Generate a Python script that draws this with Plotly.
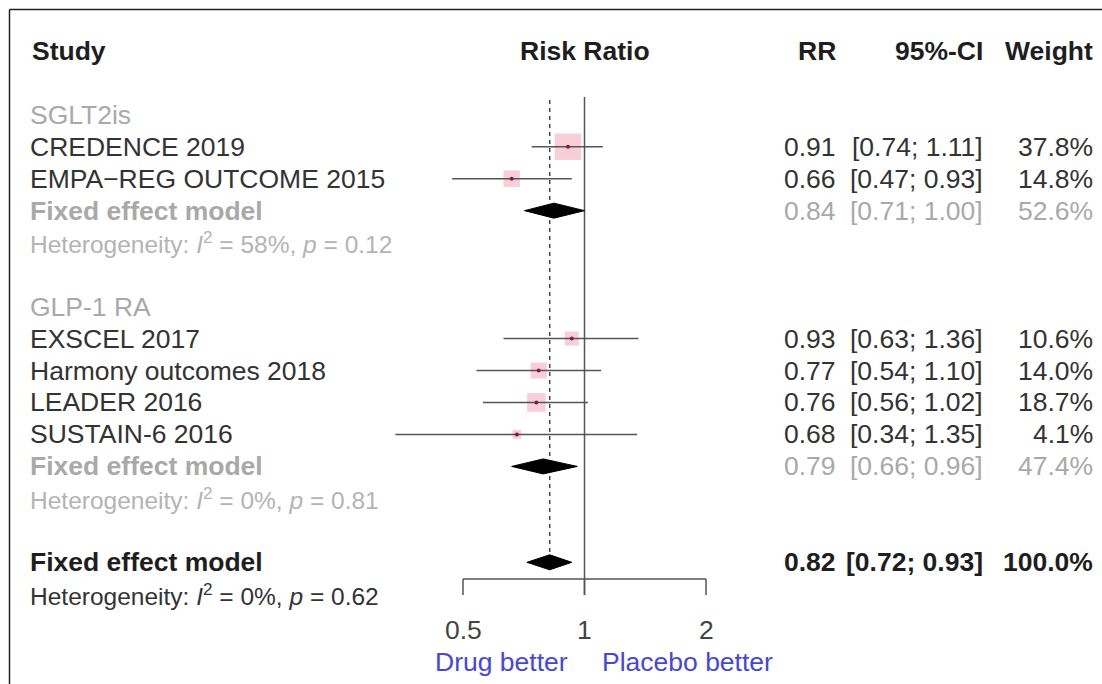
import math
import plotly.graph_objects as go

# ---------------- data ----------------
groups = ["SGLT2is", "GLP-1 RA"]
study_names = ["CREDENCE 2019", "EMPA\u2212REG OUTCOME 2015",
               "EXSCEL 2017", "Harmony outcomes 2018", "LEADER 2016", "SUSTAIN-6 2016"]
study_group = [0, 0, 1, 1, 1, 1]
study_rr = [0.91, 0.66, 0.93, 0.77, 0.76, 0.68]
study_lo = [0.74, 0.47, 0.63, 0.54, 0.56, 0.34]
study_hi = [1.11, 0.93, 1.36, 1.10, 1.02, 1.35]
study_weight = [37.8, 14.8, 10.6, 14.0, 18.7, 4.1]

sub_rr = [0.84, 0.79]
sub_lo = [0.71, 0.66]
sub_hi = [1.00, 0.96]
sub_weight = [52.6, 47.4]
sub_i2 = [58, 0]
sub_p = ["0.12", "0.81"]

overall_rr = 0.82
overall_lo = 0.72
overall_hi = 0.93
overall_weight = 100.0
overall_i2 = 0
overall_p = "0.62"

tick_vals = [0.5, 1, 2]
tick_labels = ["0.5", "1", "2"]
headers = ["Study", "Risk Ratio", "RR", "95%-CI", "Weight"]
label_left = "Drug better"
label_right = "Placebo better"

# ---------------- layout helpers ----------------
W, H = 1102, 684
FONT = "Liberation Sans, Arial, sans-serif"
FS = 26.5
FS_HET = 24.5
ROW_PX = 31.97
ROW0_PX = 50.8

def px_to_row(py):
    return (py - ROW0_PX) / ROW_PX

# log x axis anchored so that 0.5 -> 463px and 2 -> 706px
x_lo_px, x_hi_px = 463.0, 706.0
ppu = (x_hi_px - x_lo_px) / (math.log10(2) - math.log10(0.5))
xr0 = math.log10(0.5) - x_lo_px / ppu
xr1 = math.log10(0.5) + (W - x_lo_px) / ppu

DARK = "#333333"
BLACK = "#1e1e1e"
GRAY = "#a9a9a9"
LINE = "#555555"
BLUE = "#4646de"
PINK = "#f6b9c9"

fig = go.Figure()
ann = []

def text(x, row, s, color=DARK, size=FS, anchor="left", bold=False, xref="paper", xshift=0):
    if bold:
        s = "<b>" + s + "</b>"
    xv = x / W if xref == "paper" else math.log10(x)
    ann.append(dict(x=xv, xref=xref, y=row, yref="y",
                    text=s, showarrow=False, xanchor=anchor, yanchor="middle",
                    xshift=xshift,
                    font=dict(family=FONT, size=size, color=color)))

X_STUDY = 28
X_RR = 838
X_CI = 985
X_W = 1095

def fmt_ci(lo, hi):
    return "[{:.2f}; {:.2f}]".format(lo, hi)

def right_cols(row, rr, lo, hi, w, color, bold=False):
    text(X_RR, row, "{:.2f}".format(rr), color, anchor="right", bold=bold)
    text(X_CI, row, fmt_ci(lo, hi), color, anchor="right", bold=bold)
    text(X_W, row, "{:.1f}%".format(w), color, anchor="right", bold=bold)

def het(i2, p):
    return "Heterogeneity: <i>I</i><sup>2</sup> = {}%, <i>p</i> = {}".format(i2, p)

def diamond(row, est, lo, hi, h=0.235):
    fig.add_trace(go.Scatter(x=[lo, est, hi, est, lo], y=[row, row - h, row, row + h, row],
                             mode="lines", fill="toself", fillcolor="black",
                             line=dict(color="black", width=1), hoverinfo="skip"))

# headers
text(30, 0, headers[0], BLACK, bold=True)
text(1, 0, headers[1], BLACK, bold=True, anchor="center", xref="x")
text(X_RR, 0, headers[2], BLACK, bold=True, anchor="right")
text(X_CI, 0, headers[3], BLACK, bold=True, anchor="right")
text(X_W, 0, headers[4], BLACK, bold=True, anchor="right")

# reference lines (drawn first, behind marks)
fig.add_trace(go.Scatter(x=[1, 1], y=[px_to_row(97), px_to_row(595)], mode="lines",
                         line=dict(color=LINE, width=1.5), hoverinfo="skip"))
fig.add_trace(go.Scatter(x=[overall_rr, overall_rr], y=[px_to_row(100), px_to_row(554)],
                         mode="lines", line=dict(color="#444444", width=1.5, dash="4px,4px"),
                         hoverinfo="skip"))

row = 2
for g, gname in enumerate(groups):
    text(X_STUDY, row, gname, GRAY)
    row += 1
    idx = [i for i in range(len(study_names)) if study_group[i] == g]
    rows_g = []
    for i in idx:
        text(X_STUDY, row, study_names[i], DARK)
        right_cols(row, study_rr[i], study_lo[i], study_hi[i], study_weight[i], DARK)
        rows_g.append(row)
        row += 1
    # squares
    fig.add_trace(go.Scatter(x=[study_rr[i] for i in idx], y=rows_g, mode="markers",
                             marker=dict(symbol="square", color=PINK,
                                         size=[4.3 * math.sqrt(study_weight[i]) for i in idx],
                                         line=dict(width=0)), hoverinfo="skip"))
    # CI lines
    for i, r in zip(idx, rows_g):
        fig.add_trace(go.Scatter(x=[study_lo[i], study_hi[i]], y=[r, r], mode="lines",
                                 line=dict(color=LINE, width=1.5), hoverinfo="skip"))
    fig.add_trace(go.Scatter(x=[study_rr[i] for i in idx], y=rows_g, mode="markers",
                             marker=dict(symbol="circle", color="#7a2040", size=4),
                             hoverinfo="skip"))
    # subgroup fixed effect
    text(X_STUDY, row, "Fixed effect model", GRAY, bold=True)
    right_cols(row, sub_rr[g], sub_lo[g], sub_hi[g], sub_weight[g], GRAY)
    diamond(row, sub_rr[g], sub_lo[g], sub_hi[g])
    row += 1
    text(X_STUDY, row, het(sub_i2[g], sub_p[g]), "#b4b4b4", size=FS_HET)
    row += 2

# overall
text(X_STUDY, row, "Fixed effect model", BLACK, bold=True)
right_cols(row, overall_rr, overall_lo, overall_hi, overall_weight, BLACK, bold=True)
diamond(row, overall_rr, overall_lo, overall_hi)
row += 1
text(X_STUDY, row, het(overall_i2, overall_p), DARK, size=FS_HET)

# x axis drawn as a bracket
axis_row = px_to_row(579)
tick_bottom = px_to_row(595)
fig.add_trace(go.Scatter(x=[tick_vals[0], tick_vals[-1]], y=[axis_row, axis_row], mode="lines",
                         line=dict(color=LINE, width=1.5), hoverinfo="skip"))
for tv, tl in zip(tick_vals, tick_labels):
    fig.add_trace(go.Scatter(x=[tv, tv], y=[axis_row, tick_bottom], mode="lines",
                             line=dict(color=LINE, width=1.5), hoverinfo="skip"))
    text(tv, px_to_row(630), tl, "#444444", anchor="center", xref="x")

text(1, px_to_row(662), label_left, BLUE, anchor="right", xref="x", xshift=-15)
text(1, px_to_row(662), label_right, BLUE, anchor="left", xref="x", xshift=15)

fig.update_layout(
    width=W, height=H, autosize=False,
    margin=dict(l=0, r=0, t=0, b=0, pad=0),
    paper_bgcolor="white", plot_bgcolor="white",
    showlegend=False,
    xaxis=dict(type="log", range=[xr0, xr1], visible=False, domain=[0, 1]),
    yaxis=dict(range=[px_to_row(H), px_to_row(0)], visible=False, domain=[0, 1]),
    annotations=ann,
    shapes=[
        dict(type="line", xref="paper", yref="paper", x0=9.5 / W, x1=1.0,
             y0=1 - 9.5 / H, y1=1 - 9.5 / H, line=dict(color="#222222", width=1.5)),
        dict(type="line", xref="paper", yref="paper", x0=9.5 / W, x1=9.5 / W,
             y0=0, y1=1 - 9.5 / H, line=dict(color="#222222", width=1.5)),
    ],
)

fig.write_html("out.html")
